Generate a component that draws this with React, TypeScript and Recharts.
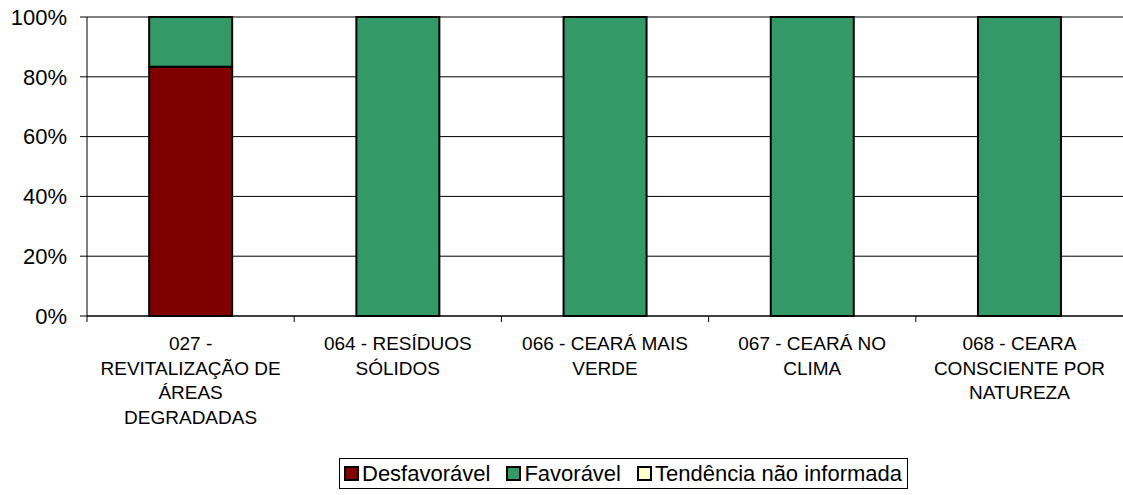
import React from 'react';
import { BarChart, Bar, XAxis, YAxis, CartesianGrid, Legend } from 'recharts';

const categories = [
  '027 -\nREVITALIZAÇÃO DE\nÁREAS\nDEGRADADAS',
  '064 - RESÍDUOS\nSÓLIDOS',
  '066 - CEARÁ MAIS\nVERDE',
  '067 - CEARÁ NO\nCLIMA',
  '068 - CEARA\nCONSCIENTE POR\nNATUREZA',
];
const desfavoravel = [83.33, 0, 0, 0, 0];
const favoravel = [16.67, 100, 100, 100, 100];
const tendenciaNaoInformada = [0, 0, 0, 0, 0];
const yTicks = [0, 20, 40, 60, 80, 100];

const seriesNames = ['Desfavorável', 'Favorável', 'Tendência não informada'];
const seriesColors = ['#800000', '#339966', '#FFFFCC'];

const data = categories.map((c, i) => ({
  name: c,
  d: desfavoravel[i],
  f: favoravel[i],
  t: tendenciaNaoInformada[i],
}));

const W = 1123;
const H = 495;
const LEFT = 87;
const TOP = 17;
const PLOT_BOTTOM = 316;
const BAND = (W - LEFT) / categories.length;
const FONT = 'Liberation Sans, Arial, sans-serif';

const CategoryTick = (props: any) => {
  const { x, payload } = props;
  const lines = String(payload.value).split('\n');
  return (
    <g>
      <line x1={x - BAND / 2} x2={x - BAND / 2} y1={PLOT_BOTTOM} y2={PLOT_BOTTOM + 6} stroke="#000" strokeWidth={1} />
      <text x={x} y={PLOT_BOTTOM + 34} textAnchor="middle" fontSize={19} fill="#000" fontFamily={FONT}>
        {lines.map((l, i) => (
          <tspan key={i} x={x} dy={i === 0 ? 0 : 24.5}>
            {l}
          </tspan>
        ))}
      </text>
    </g>
  );
};

const LegendContent = () => (
  <div
    style={{
      display: 'flex',
      alignItems: 'center',
      border: '1px solid #000',
      height: 31,
      padding: '0 5px 0 4px',
      fontFamily: FONT,
      fontSize: 22,
      color: '#000',
      background: '#fff',
      boxSizing: 'border-box',
      whiteSpace: 'nowrap',
    }}
  >
    {seriesNames.map((n, i) => (
      <div key={n} style={{ display: 'flex', alignItems: 'center', marginRight: i < seriesNames.length - 1 ? 16 : 0 }}>
        <div
          style={{
            width: 11,
            height: 11,
            background: seriesColors[i],
            border: '2px solid #000',
            marginRight: 3,
          }}
        />
        <span>{n}</span>
      </div>
    ))}
  </div>
);

export default function App() {
  return (
    <div style={{ position: 'absolute', left: 0, top: 0, width: W, height: H, background: '#fff' }}>
      <BarChart
        width={W}
        height={H}
        data={data}
        margin={{ top: TOP, right: 0, left: 0, bottom: H - PLOT_BOTTOM - 30 }}
        barCategoryGap="30%"
      >
        <CartesianGrid vertical={false} stroke="#000" strokeWidth={1} />
        <XAxis
          dataKey="name"
          height={30}
          tick={<CategoryTick />}
          tickLine={false}
          axisLine={{ stroke: '#000' }}
          interval={0}
        />
        <YAxis
          width={LEFT}
          domain={[0, 100]}
          ticks={yTicks}
          tickFormatter={(v: number) => `${v}%`}
          tickSize={7}
          tickMargin={13}
          tickLine={{ stroke: '#000' }}
          axisLine={{ stroke: '#000' }}
          tick={{ fontSize: 22, fill: '#000', fontFamily: FONT }}
          interval={0}
        />
        <Legend
          layout="vertical"
          verticalAlign="middle"
          align="center"
          content={<LegendContent />}
          wrapperStyle={{ position: 'absolute', left: 339, top: 458, width: 'auto', height: 'auto' }}
        />
        <Bar dataKey="d" name={seriesNames[0]} stackId="a" fill={seriesColors[0]} stroke="#000" strokeWidth={2} isAnimationActive={false} />
        <Bar dataKey="f" name={seriesNames[1]} stackId="a" fill={seriesColors[1]} stroke="#000" strokeWidth={2} isAnimationActive={false} />
        <Bar dataKey="t" name={seriesNames[2]} stackId="a" fill={seriesColors[2]} stroke="#000" strokeWidth={2} isAnimationActive={false} />
      </BarChart>
    </div>
  );
}
